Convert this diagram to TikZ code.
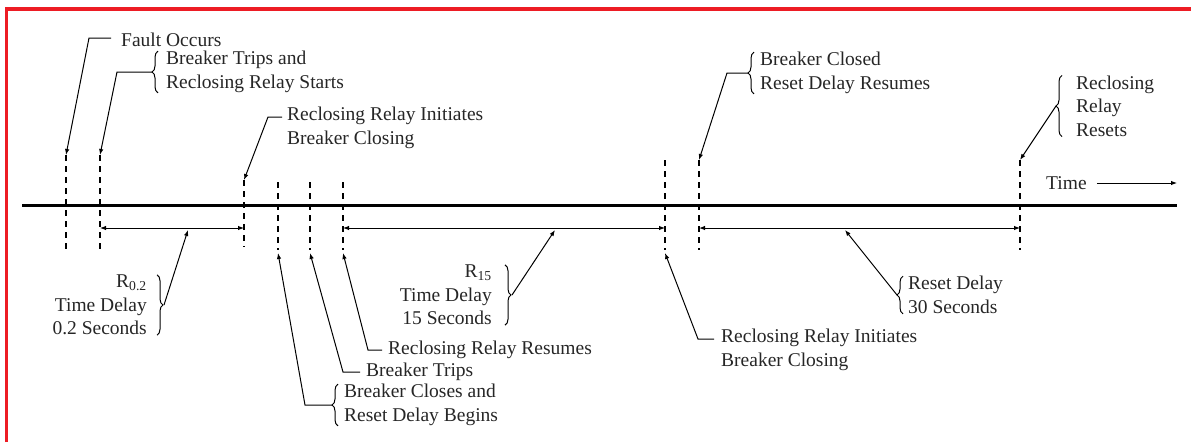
\documentclass[tikz,border=0pt]{standalone}
\usepackage{fontspec}
\setmainfont{Liberation Serif}
\usetikzlibrary{arrows.meta,decorations.pathreplacing}
\definecolor{borderred}{RGB}{237,28,36}
\begin{document}
\begin{tikzpicture}[x=1pt,y=-1pt,
  lbl/.style={font=\fontsize{19.5}{23.5}\selectfont, inner sep=0pt, text=black!85},
  axisline/.style={line width=3pt},
  tick/.style={dash pattern=on 6pt off 5pt, line width=1.3pt},
  dim/.style={line width=1pt, {Latex[length=6pt,width=4.5pt]}-{Latex[length=6pt,width=4.5pt]}},
  lead/.style={line width=1pt, -{Latex[length=6pt,width=4.5pt]}},
  brc/.style={line width=1pt, decorate, decoration={brace, amplitude=6pt}},
  border/.style={draw=borderred, line width=3.5pt}
]
\useasboundingbox (0,0) rectangle (1191,442);
\draw[border] (6.5,442) -- (6.5,9) -- (1191,9);

% axis
\coordinate (ax0) at (22,205);
\coordinate (ax1) at (1177,205);
\draw[axisline] (ax0) -- (ax1);

% ticks
\coordinate (t1t) at (66,155);   \coordinate (t1b) at (66,250);
\coordinate (t2t) at (100,155);  \coordinate (t2b) at (100,250);
\coordinate (t3t) at (244,180);  \coordinate (t3b) at (244,247);
\coordinate (t4t) at (278,182);  \coordinate (t4b) at (278,250);
\coordinate (t5t) at (310,182);  \coordinate (t5b) at (310,250);
\coordinate (t6t) at (343,182);  \coordinate (t6b) at (343,250);
\coordinate (t7t) at (665,160);  \coordinate (t7b) at (665,250);
\coordinate (t8t) at (699,160);  \coordinate (t8b) at (699,250);
\coordinate (t9t) at (1020,160); \coordinate (t9b) at (1020,250);
\foreach \i in {1,...,9} \draw[tick] (t\i t) -- (t\i b);

% dimension lines
\coordinate (d1l) at (100,228); \coordinate (d1r) at (244,228);
\coordinate (d2l) at (343,228); \coordinate (d2r) at (665,228);
\coordinate (d3l) at (699,228); \coordinate (d3r) at (1020,228);
\draw[dim] (d1l) -- (d1r);
\draw[dim] (d2l) -- (d2r);
\draw[dim] (d3l) -- (d3r);
\coordinate (d1m) at (188,230);
\coordinate (d2m) at (555,230);
\coordinate (d3m) at (845,230);

% arrow targets below ticks
\coordinate (t4a) at (278,253);
\coordinate (t5a) at (310,253);
\coordinate (t6a) at (343,253);
\coordinate (t7a) at (665,253);

% labels
\node[lbl, anchor=west] (n1) at (121,40) {Fault Occurs};
\node[lbl, anchor=west, align=left] (n2) at (166,72) {Breaker Trips and\\Reclosing Relay Starts};
\node[lbl, anchor=west, align=left] (n3) at (287,128) {Reclosing Relay Initiates\\Breaker Closing};
\node[lbl, anchor=east, align=right] (n4) at (147,305) {R\textsubscript{0.2}\\Time Delay\\0.2 Seconds};
\node[lbl, anchor=east, align=right] (n5) at (492,295) {R\textsubscript{15}\\Time Delay\\15 Seconds};
\node[lbl, anchor=west] (n6) at (388,350) {Reclosing Relay Resumes};
\node[lbl, anchor=west] (n7) at (366,372) {Breaker Trips};
\node[lbl, anchor=west, align=left] (n8) at (344,405) {Breaker Closes and\\Reset Delay Begins};
\node[lbl, anchor=west, align=left] (n9) at (721,350) {Reclosing Relay Initiates\\Breaker Closing};
\node[lbl, anchor=west, align=left] (n10) at (908,295) {Reset Delay\\30 Seconds};
\node[lbl, anchor=west, align=left] (n11) at (760,73) {Breaker Closed\\Reset Delay Resumes};
\node[lbl, anchor=west, align=left] (n12) at (1076,106) {Reclosing\\Relay\\Resets};
\node[lbl, anchor=west] (time) at (1046,183) {Time};
\coordinate (tend) at (1177,183);

% braces
\draw[brc] ([xshift=-8pt]n2.south west) -- ([xshift=-8pt]n2.north west);
\draw[brc] ([xshift=10pt]n4.north east) -- ([xshift=10pt]n4.south east);
\draw[brc] ([xshift=13pt]n5.north east) -- ([xshift=13pt]n5.south east);
\draw[brc] ([xshift=-6pt]n8.south west) -- ([xshift=-6pt]n8.north west);
\draw[brc] ([xshift=-5pt]n10.south west) -- ([xshift=-5pt]n10.north west);
\draw[brc] ([xshift=-6pt]n11.south west) -- ([xshift=-6pt]n11.north west);
\draw[brc] ([xshift=-14pt]n12.south west) -- ([xshift=-14pt]n12.north west);

% leaders
\draw[lead] ([xshift=-10pt,yshift=2pt]n1.west) -- ++(-22,0) -- (t1t);
\draw[lead] ([xshift=-14pt]n2.west) -- ++(-35,0) -- (t2t);
\draw[lead] ([xshift=-5pt,yshift=11pt]n3.west) -- ++(-14,0) -- (t3t);
\draw[lead] ([xshift=17pt]n4.east) -- (d1m);
\draw[lead] ([xshift=20pt]n5.east) -- (d2m);
\draw[lead] ([xshift=-6pt]n6.west) -- ++(-14,0) -- (t6a);
\draw[lead] ([xshift=-6pt]n7.west) -- ++(-17,0) -- (t5a);
\draw[lead] ([xshift=-12pt]n8.west) -- ++(-27,0) -- (t4a);
\draw[lead] ([xshift=-7pt,yshift=11pt]n9.west) -- ++(-16,0) -- (t7a);
\draw[lead] ([xshift=-11pt]n10.west) -- (d3m);
\draw[lead] ([xshift=-12pt]n11.west) -- ++(-21,0) -- (t8t);
\draw[lead] ([xshift=-20pt]n12.west) -- (t9t);
\draw[lead] ([xshift=10pt]time.east) -- (tend);
\end{tikzpicture}
\end{document}
